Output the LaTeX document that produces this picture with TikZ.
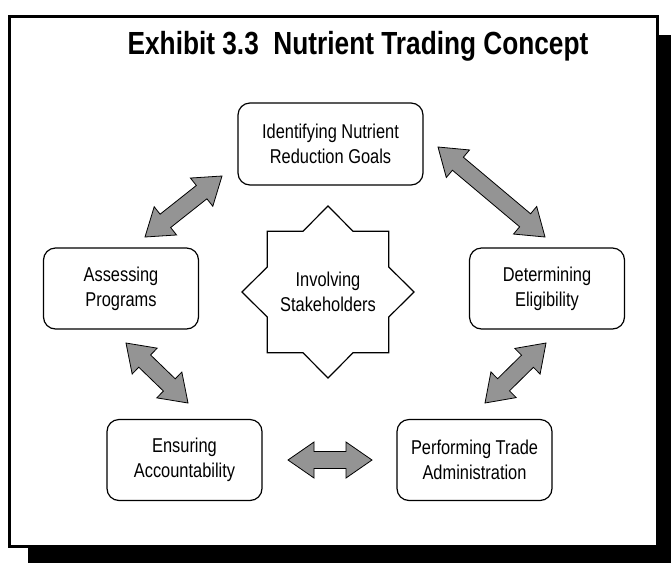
\documentclass[tikz,border=0pt]{standalone}
\usepackage{fontspec}
\setmainfont{Liberation Sans}[FakeStretch=0.82]
\usetikzlibrary{calc,shapes.geometric}

\newcommand{\headlen}{26pt}
\newcommand{\headw}{18pt}
\newcommand{\shaftw}{8.5pt}
\newcommand{\twowayarrow}[2]{%
	\draw[blockarrow] (#1) -- ($(#1)!\headlen!(#2)!\headw!90:(#2)$)
		-- ($(#1)!\headlen!(#2)!\shaftw!90:(#2)$)
		-- ($(#2)!\headlen!(#1)!\shaftw!-90:(#1)$)
		-- ($(#2)!\headlen!(#1)!\headw!-90:(#1)$)
		-- (#2) -- ($(#2)!\headlen!(#1)!\headw!90:(#1)$)
		-- ($(#2)!\headlen!(#1)!\shaftw!90:(#1)$)
		-- ($(#1)!\headlen!(#2)!\shaftw!-90:(#2)$)
		-- ($(#1)!\headlen!(#2)!\headw!-90:(#2)$) -- cycle;}

\begin{document}
\begin{tikzpicture}[x = 1pt, y = -1pt,
	box/.style = {draw = black, line width = 1.2pt, rounded corners = 12pt,
				  align = center, inner sep = 0pt,
				  minimum width = 155pt, minimum height = 81pt,
				  font = \fontsize{20}{25}\selectfont},
	blockarrow/.style = {draw = black, fill = black!42, line width = 0.8pt}]

	\useasboundingbox (0,0) rectangle (671,563);

	% frame and its shadow
	\fill[black] (28,35) rectangle (671,563);
	\draw[fill = white, line width = 3pt] (9.5,16.5) rectangle (657.5,546);

	\draw (358,46) node[font = \fontsize{32}{38}\selectfont\bfseries] (title)
		{Exhibit 3.3\ \ Nutrient Trading Concept};

	\draw (330.5,144) node[box, minimum width = 185pt,
					 minimum height = 82pt] (goals) {Identifying Nutrient\\Reduction Goals};
	\draw (121,288.5) node[box] (assess) {Assessing\\Programs};
	\draw (547,288.5) node[box] (elig) {Determining\\Eligibility};
	\draw (184.5,460) node[box] (account) {Ensuring\\Accountability};
	\draw (474.5,460) node[box] (admin) {Performing Trade\\Administration};

	% the star keeps its size, its text sits on it as a label
	\draw (328,292) node[draw = black, line width = 1.2pt,
					 shape = star, star points = 8, star point ratio = 1.31,
					 minimum size = 172pt, inner sep = 0pt,
					 label = {[align = center, font = \fontsize{20}{25}\selectfont]
							  center:Involving\\Stakeholders}] (stake) {};

	\coordinate (tl1) at (222,176);
	\coordinate (tl2) at (145,237);
	\coordinate (tr1) at (438,147);
	\coordinate (tr2) at (545,237);
	\coordinate (bl1) at (126,343);
	\coordinate (bl2) at (188,403);
	\coordinate (br1) at (546,343);
	\coordinate (br2) at (485,403);
	\coordinate (h1) at (288,460);
	\coordinate (h2) at (372,460);

	\twowayarrow{tl1}{tl2}
	\twowayarrow{tr1}{tr2}
	\twowayarrow{bl1}{bl2}
	\twowayarrow{br1}{br2}
	\twowayarrow{h1}{h2}
\end{tikzpicture}
\end{document}
